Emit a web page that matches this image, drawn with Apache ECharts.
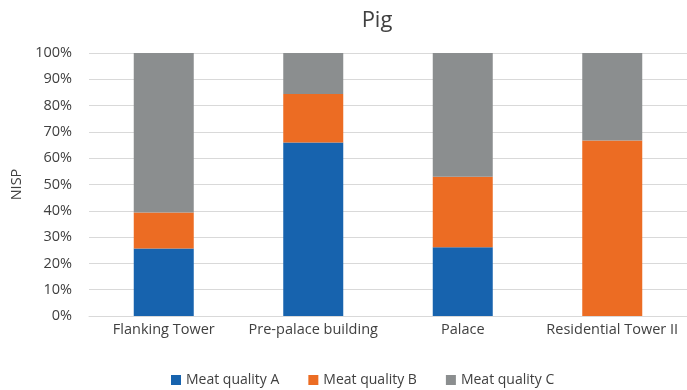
<!DOCTYPE html>
<html>
<head>
<meta charset="utf-8">
<script src="https://cdn.jsdelivr.net/npm/echarts@6/dist/echarts.min.js"></script>
<style>
  html, body { margin: 0; padding: 0; background: #fff; }
  #chart { width: 687px; height: 390px; }
</style>
</head>
<body>
<div id="chart"></div>
<script>
const categories = ['Flanking Tower', 'Pre-palace building', 'Palace', 'Residential Tower II']
const qualityA = [25.7, 66.0, 26.1, 0]
const qualityB = [13.7, 18.4, 26.8, 66.7]
const qualityC = [60.6, 15.6, 47.1, 33.3]
const seriesNames = ['Meat quality A', 'Meat quality B', 'Meat quality C']
const colors = ['#1763ae', '#ec6c23', '#8b8e8f']

const font = '"Open Sans", sans-serif'
const textColor = '#404040'

const chart = echarts.init(document.getElementById('chart'))

const makeBar = (name, data, color) => ({
  name,
  type: 'bar',
  stack: 'total',
  data,
  barWidth: 60,
  itemStyle: { color },
  emphasis: { disabled: true },
})

chart.setOption({
  animation: false,
  textStyle: { fontFamily: font },
  title: {
    text: 'Pig',
    left: 372,
    top: 5,
    textAlign: 'center',
    textStyle: { fontFamily: font, fontSize: 22, fontWeight: 'normal', color: textColor },
  },
  grid: { left: 89, right: -6, top: 53, bottom: 74, containLabel: false },
  legend: {
    top: 368,
    left: 166,
    itemWidth: 10,
    itemHeight: 10,
    itemGap: 29,
    icon: 'rect',
    textStyle: { fontFamily: font, fontSize: 14, color: textColor },
    data: seriesNames,
  },
  xAxis: {
    type: 'category',
    data: categories,
    axisLine: { lineStyle: { color: '#d9d9d9', width: 1 } },
    axisTick: { show: false },
    axisLabel: { color: textColor, fontSize: 14.5, fontFamily: font, margin: 6, interval: 0 },
  },
  yAxis: {
    type: 'value',
    min: 0,
    max: 100,
    interval: 10,
    name: 'NISP',
    nameLocation: 'middle',
    nameRotate: 90,
    nameGap: 64,
    nameTextStyle: { fontSize: 14.5, color: textColor, fontFamily: font },
    axisLine: { show: false },
    axisTick: { show: false },
    splitLine: { lineStyle: { color: '#d9d9d9', width: 1 } },
    axisLabel: { formatter: '{value}%', color: textColor, fontSize: 14.5, fontFamily: font, margin: 17 },
  },
  series: [
    makeBar(seriesNames[0], qualityA, colors[0]),
    makeBar(seriesNames[1], qualityB, colors[1]),
    makeBar(seriesNames[2], qualityC, colors[2]),
  ],
})
</script>
</body>
</html>
